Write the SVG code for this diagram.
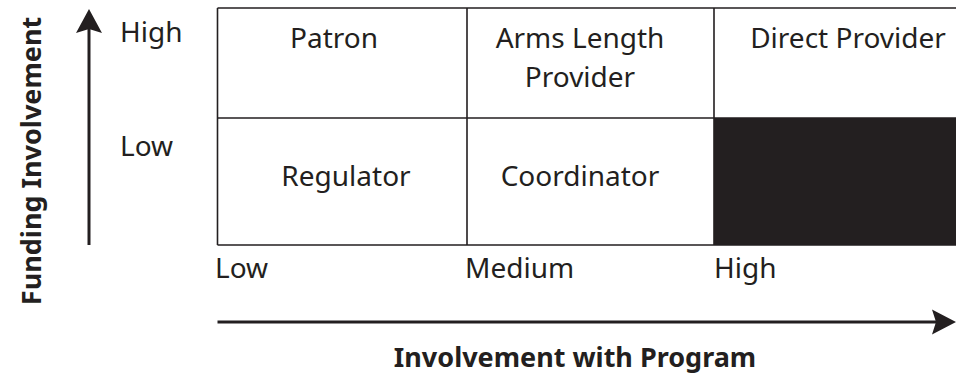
<svg xmlns="http://www.w3.org/2000/svg" width="956" height="377" viewBox="0 0 956 377">
<style>
.t{font-family:"Noto Sans","Open Sans","Liberation Sans",sans-serif;font-size:28px;fill:#231f20}
.b{font-family:"Noto Sans","Open Sans","Liberation Sans",sans-serif;font-size:27px;font-weight:bold;fill:#231f20}
.c{text-anchor:middle}
.g{fill:none;stroke:#231f20;stroke-width:1.6}
.ax{stroke:#231f20;stroke-width:3;fill:none}
.ah{fill:#231f20}
</style>
<rect width="956" height="377" fill="#ffffff"/>
<g id="grid">
<rect x="714" y="118" width="250" height="127" fill="#231f20"/>
<path class="g" d="M217.5,8 H964 M217.5,118 H964 M217.5,245 H964 M217.5,8 V245 M467,8 V245 M714,8 V245"/>
</g>
<g id="patron"><text class="t c" x="334" y="48">Patron</text></g>
<g id="arms-length"><text class="t c" x="580" y="48">Arms Length</text><text class="t c" x="580" y="87">Provider</text></g>
<g id="direct-provider"><text class="t c" x="848" y="48">Direct Provider</text></g>
<g id="regulator"><text class="t c" x="346" y="186">Regulator</text></g>
<g id="coordinator"><text class="t c" x="580" y="186">Coordinator</text></g>
<g id="labels">
<text class="t" x="120" y="42">High</text>
<text class="t" x="120" y="156">Low</text>
<text class="t" x="215" y="278">Low</text>
<text class="t" x="465" y="278">Medium</text>
<text class="t" x="714" y="278">High</text>
<text class="b c" x="575" y="367">Involvement with Program</text>
<text class="b c" transform="translate(41,161) rotate(-90)" x="0" y="0">Funding Involvement</text>
</g>
<g id="connectors">
<path class="ax" d="M89,245 V28"/>
<path class="ah" d="M89,9 L102,33 L89,29 L76,33 Z"/>
<path class="ax" d="M217.5,322 H940"/>
<path class="ah" d="M956,322 L932,309.5 L936,322 L932,334.5 Z"/>
</g>
</svg>
